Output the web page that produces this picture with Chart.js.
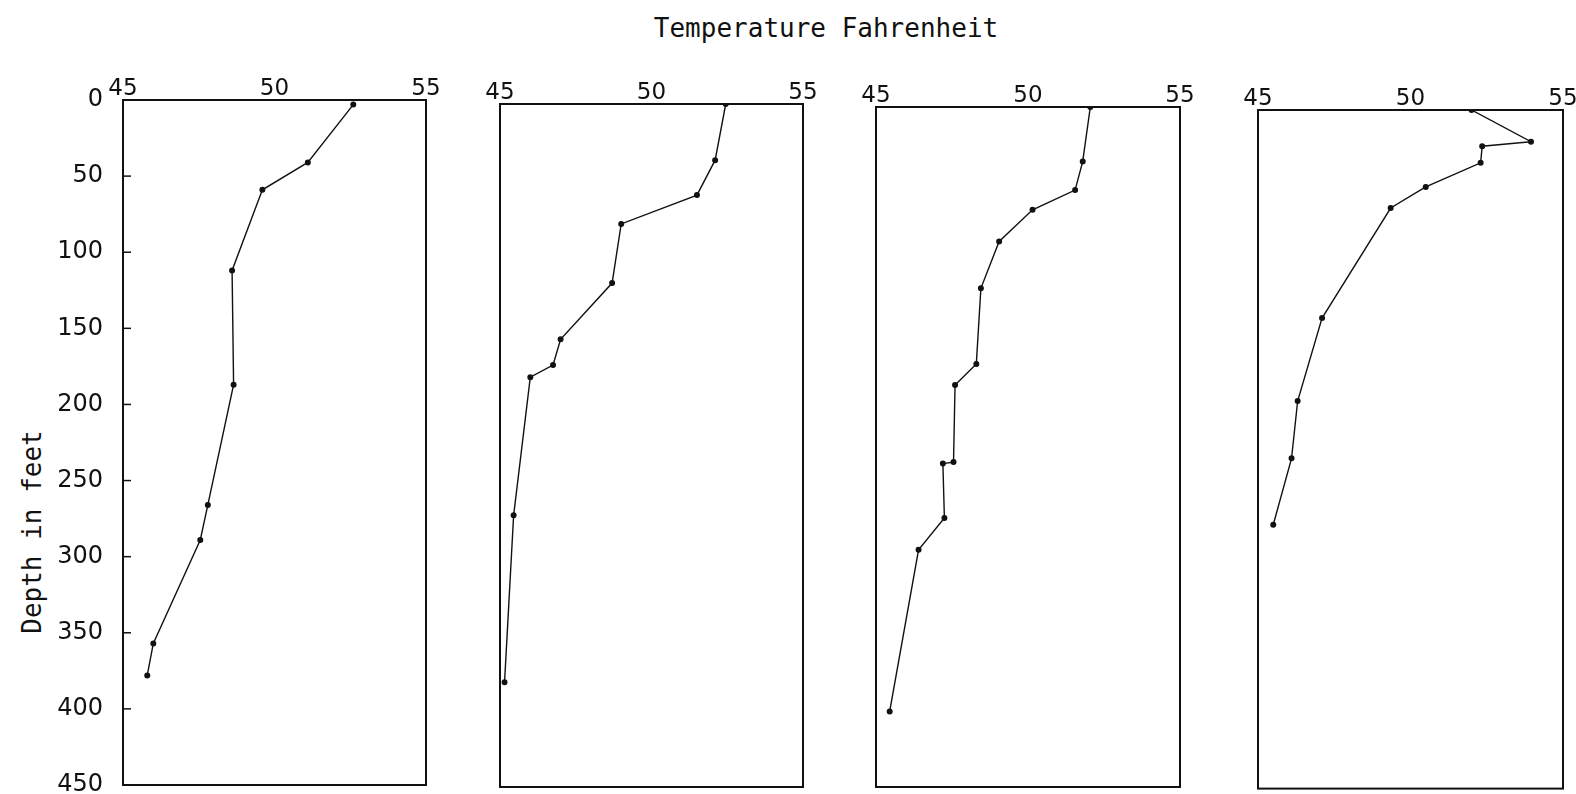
<!DOCTYPE html>
<html>
<head>
<meta charset="utf-8">
<script src="https://cdn.jsdelivr.net/npm/chart.js@4.4.1/dist/chart.umd.min.js"></script>
<style>
  body { margin: 0; background: #fff; }
  #page { position: relative; width: 1576px; height: 794px; overflow: hidden; background: #fff; }
  #page canvas { position: absolute; top: 0; }
  #title {
    position: absolute; left: 826px; top: 28px; transform: translate(-50%, -50%);
    font: 26px "DejaVu Sans Mono", monospace; color: #111; white-space: nowrap;
  }
  #ylabel {
    position: absolute; left: 32px; top: 532px; transform: translate(-50%, -50%) rotate(-90deg);
    font: 26px "DejaVu Sans Mono", monospace; color: #111; white-space: nowrap;
  }
</style>
</head>
<body>
<div id="page">
  <div id="title">Temperature Fahrenheit</div>
  <div id="ylabel">Depth in feet</div>
  <canvas id="c1"></canvas>
  <canvas id="c2"></canvas>
  <canvas id="c3"></canvas>
  <canvas id="c4"></canvas>
</div>
<script>
// tick values
const tempTicks = [45, 50, 55];
const depthTicks = [0, 50, 100, 150, 200, 250, 300, 350, 400, 450];

// station 1
const temp1 = [52.6, 51.1, 49.6, 48.6, 48.65, 47.8, 47.55, 46.0, 45.8];
const depth1 = [3, 41, 59, 112, 187, 266, 289, 357, 378];

// station 2
const temp2 = [52.45, 52.1, 51.5, 49.0, 48.7, 47.0, 46.75, 46.0, 45.45, 45.15];
const depth2 = [0, 37, 60, 79, 118, 155, 172, 180, 271, 381];

// station 3
const temp3 = [52.05, 51.8, 51.55, 50.15, 49.05, 48.45, 48.3, 47.6, 47.55, 47.2, 47.25, 46.4, 45.45];
const depth3 = [0, 36, 55, 68, 89, 120, 170, 184, 235, 236, 272, 293, 400];

// station 4
const temp4 = [52.0, 53.95, 52.35, 52.3, 50.5, 49.35, 47.1, 46.3, 46.1, 45.5];
const depth4 = [0, 21, 24, 35, 51, 65, 138, 193, 231, 275];

const INK = '#111';

// draws the box round the plot and the little inward depth ticks
const frame = {
  id: 'frame',
  afterDraw(chart, args, opts) {
    const { ctx, chartArea: a } = chart;
    ctx.save();
    ctx.strokeStyle = INK;
    ctx.lineWidth = 2;
    ctx.strokeRect(a.left, a.top, a.right - a.left, a.bottom - a.top);
    if (opts.innerTicks) {
      const y = chart.scales.y;
      ctx.lineWidth = 1.5;
      y.ticks.forEach((t) => {
        const py = y.getPixelForValue(t.value);
        ctx.beginPath();
        ctx.moveTo(a.left, py);
        ctx.lineTo(a.left + 8, py);
        ctx.stroke();
      });
    }
    ctx.restore();
  }
};

function makePanel(id, temps, depths, box, first) {
  const canvas = document.getElementById(id);
  const canvasLeft = first ? 0 : box.left - 40;
  const width = box.right - canvasLeft + 40;
  canvas.width = width;
  canvas.height = 794;
  canvas.style.left = canvasLeft + 'px';

  const points = temps.map((t, i) => ({ x: t, y: depths[i] }));

  return new Chart(canvas.getContext('2d'), {
    type: 'scatter',
    data: {
      datasets: [{
        data: points,
        showLine: true,
        borderColor: INK,
        borderWidth: 1.4,
        pointRadius: 2.3,
        pointBackgroundColor: INK,
        pointBorderColor: INK,
        tension: 0
      }]
    },
    plugins: [frame],
    options: {
      responsive: false,
      animation: false,
      events: [],
      layout: {
        padding: {
          left: first ? 0 : 40,
          right: 40,
          top: 0,
          bottom: 794 - box.bottom
        }
      },
      plugins: {
        legend: { display: false },
        tooltip: { enabled: false },
        frame: { innerTicks: first }
      },
      scales: {
        x: {
          type: 'linear',
          position: 'top',
          min: 45,
          max: 55,
          afterBuildTicks: (scale) => { scale.ticks = tempTicks.map((v) => ({ value: v })); },
          afterFit: (scale) => { scale.height = box.top; },
          grid: { display: false, drawTicks: false },
          border: { display: false },
          ticks: {
            padding: -3,
            color: INK,
            font: { family: 'DejaVu Sans', size: 23 }
          }
        },
        y: {
          type: 'linear',
          display: first,
          reverse: true,
          min: 0,
          max: 450,
          afterBuildTicks: (scale) => { scale.ticks = depthTicks.map((v) => ({ value: v })); },
          afterFit: (scale) => {
            if (first) scale.width = box.left;
            scale.paddingTop = 0;
            scale.paddingBottom = 0;
          },
          grid: { display: false, drawTicks: false },
          border: { display: false },
          ticks: {
            padding: 20,
            color: INK,
            font: { family: 'DejaVu Sans', size: 24 }
          }
        }
      }
    }
  });
}

makePanel('c1', temp1, depth1, { left: 123, right: 426, top: 100, bottom: 785 }, true);
makePanel('c2', temp2, depth2, { left: 500, right: 803, top: 104, bottom: 787 }, false);
makePanel('c3', temp3, depth3, { left: 876, right: 1180, top: 107, bottom: 787 }, false);
makePanel('c4', temp4, depth4, { left: 1258, right: 1563, top: 110, bottom: 789 }, false);
</script>
</body>
</html>
